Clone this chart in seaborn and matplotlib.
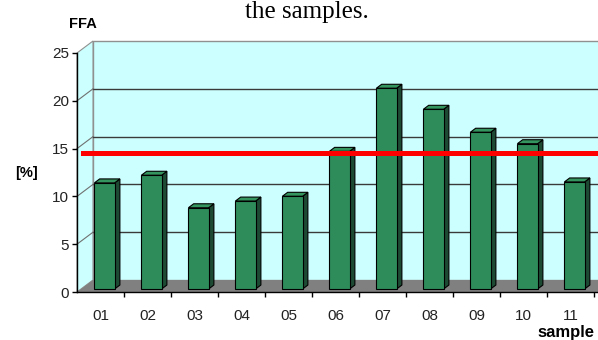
import matplotlib
matplotlib.use("Agg")
import pandas as pd
import seaborn as sns
from matplotlib import pyplot as plt
from matplotlib.patches import Polygon, Rectangle

# values
samples = ["01", "02", "03", "04", "05", "06", "07", "08", "09", "10", "11"]
ffa = [11.1, 11.9, 8.5, 9.2, 9.7, 14.4, 21.0, 18.8, 16.4, 15.2, 11.2]
limit = 14.5
y_ticks = [0, 5, 10, 15, 20, 25]

wall_col = "#CCFFFF"
floor_col = "#808080"
front_col = "#2E8C5A"
side_col = "#1D4A33"
top_col = "#35955F"

plt.rcParams["font.family"] = ["Liberation Sans", "DejaVu Sans"]

fig = plt.figure(figsize=(5.98, 3.4), dpi=100)
ax = fig.add_axes([77 / 598, 48 / 340, 521 / 598, 239 / 340])
ax.set_facecolor("none")

df = pd.DataFrame({"sample": samples, "ffa": ffa})
sns.barplot(data=df, x="sample", y="ffa", color=front_col, width=0.43,
            saturation=1, edgecolor="black", linewidth=0.8, ax=ax, zorder=5)
bars = list(ax.patches)

x0, x1 = -0.5, -0.5 + 521 / 47
ax.set_xlim(x0, x1)
ax.set_ylim(0, 25)

# oblique depth of the 3D box, in pixels -> data units
px_x = 521 / (x1 - x0)
px_y = 239 / 25
ddx, ddy = 16 / px_x, 12 / px_y

# back wall, side wall, floor
ax.add_patch(Rectangle((x0 + ddx, ddy), x1 - x0, 25, fc=wall_col, ec="#909090",
                       lw=1, zorder=0, clip_on=False))
ax.add_patch(Polygon([(x0, 0), (x0 + ddx, ddy), (x0 + ddx, 25 + ddy), (x0, 25)],
                     closed=True, fc=wall_col, ec="#909090", lw=0.8, zorder=0.5,
                     clip_on=False))
ax.add_patch(Polygon([(x0, 0), (x0 + ddx, ddy), (x1 + ddx, ddy), (x1, 0)],
                     closed=True, fc=floor_col, ec="none", zorder=1, clip_on=False))

for v in y_ticks[1:-1]:
    ax.plot([x0 + ddx, x1 + ddx], [v + ddy, v + ddy], color="#3A3A3A", lw=1,
            zorder=0.8, clip_on=False)
    ax.plot([x0, x0 + ddx], [v, v + ddy], color="#707070", lw=0.8,
            zorder=0.8, clip_on=False)

# give the bars some depth
fx, fy = 0.25 * ddx, 0.25 * ddy
bx, by = 0.33 * ddx, 0.33 * ddy
for p in bars:
    x, w, h = p.get_x() + fx, p.get_width(), p.get_height()
    p.set_x(x)
    p.set_y(fy)
    side = [(x + w, fy), (x + w + bx, fy + by), (x + w + bx, fy + h + by), (x + w, fy + h)]
    top = [(x, fy + h), (x + bx, fy + h + by), (x + w + bx, fy + h + by), (x + w, fy + h)]
    ax.add_patch(Polygon(side, closed=True, fc=side_col, ec="black", lw=0.8, zorder=4))
    ax.add_patch(Polygon(top, closed=True, fc=top_col, ec="black", lw=0.8, zorder=4))

ax.axhline(limit, xmin=6 / 521, xmax=1, color="#FF0000", lw=3.6, zorder=10)

# axes styling
for s in ["top", "right"]:
    ax.spines[s].set_visible(False)
for s in ["left", "bottom"]:
    ax.spines[s].set_color("black")
    ax.spines[s].set_linewidth(1)
    ax.spines[s].set_zorder(6)

ax.set_yticks(y_ticks)
ax.set_yticklabels([str(v) for v in y_ticks])
ax.tick_params(axis="y", length=3.6, width=1, pad=2, labelsize=11, labelcolor="#222222")
ax.set_xticks(range(len(samples)))
ax.set_xticklabels(samples)
ax.set_xticks([i + 0.5 for i in range(len(samples))], minor=True)
ax.tick_params(axis="x", which="major", length=0, pad=12, labelsize=11, labelcolor="#222222")
ax.tick_params(axis="x", which="minor", length=3.6, width=1)
ax.set_xlabel("")
ax.set_ylabel("")

fig.text(83 / 598, 1 - 24 / 340, "FFA", ha="center", va="center",
         fontweight="bold", fontsize=10.5)
fig.text(27 / 598, 1 - 173 / 340, "[%]", ha="center", va="center",
         fontweight="bold", fontsize=10.5)
fig.text(566 / 598, 1 - 332 / 340, "sample", ha="center", va="center",
         fontweight="bold", fontsize=12)
fig.text(245 / 598, 1 - 18 / 340, "the samples.", ha="left", va="baseline",
         family=["Liberation Serif", "DejaVu Serif"], fontsize=18)

fig.savefig("out.png", dpi=100)
